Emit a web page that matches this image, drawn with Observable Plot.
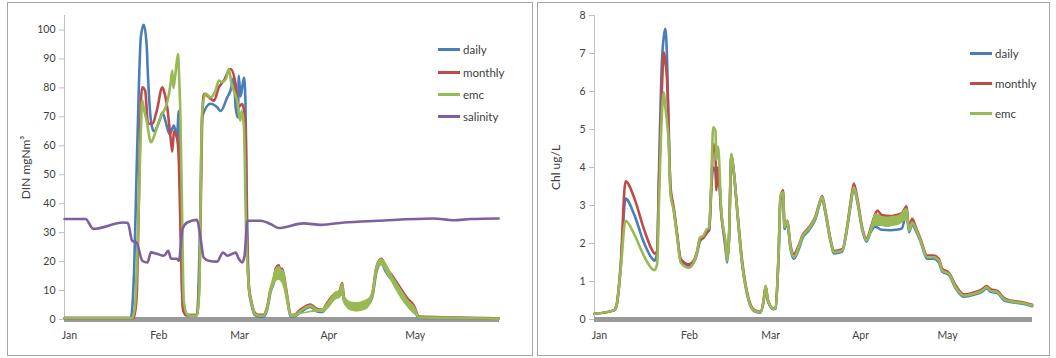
<!DOCTYPE html>
<html><head><meta charset="utf-8">
<script src="https://cdn.jsdelivr.net/npm/d3@7"></script>
<script src="https://cdn.jsdelivr.net/npm/@observablehq/plot@0.6"></script>
<style>
body{margin:0;background:#fff;font-family:Lato,"Liberation Sans",sans-serif;}
.panel{position:absolute;top:2px;height:354px;border:1px solid #a6a6a6;box-sizing:border-box;background:#fff;}
.legend{position:absolute;left:0;top:0;font-size:11.5px;color:#404040;}
.item{position:absolute;white-space:nowrap;display:flex;align-items:center;height:14px;}
.sw{width:22px;height:3px;margin-right:3px;}
svg{display:block;}
</style></head><body>
<div id="left" class="panel" style="left:7px;width:526px"></div>
<div id="right" class="panel" style="left:537px;width:513px"></div>
<script>
// ---------- data (day offsets from 1 Jan) ----------
const monthLabels = ["Jan","Feb","Mar","Apr","May"];
const dinTicks = [0,10,20,30,40,50,60,70,80,90,100];
const chlTicks = [0,1,2,3,4,5,6,7,8];

const dinDailyDays = [0,23,23.6,24.2,25,25.8,26.5,27.5,28.5,29,30,31,33,34,35,36.5,38,39,39.7,40.1,41,42,46,47,47.8,50.7,53,54.2,56.5,57.6,58.8,59.4,60.2,60.5,61.1,62.3,62.8,63.3,64,65,66,67.4,69,70.4,71.5,72.7,73.3,74.4,75,75.5,76.2,77.3,78.5,79.6,82,85.4,87.7,89.5,91.2,93.5,95.3,96.4,97,100,102.4,105.9,107,108.3,110,111.5,114.4,116.7,119,121.3,123,135,150.7];
const dinDaily = [0.5,0.5,5,18,50, 80,97.5,101.8,95,83.6, 68.7,65,68.7,71.5,68.7, 64,67,63,72,49, 5,1.5,1.5,30,70, 74.5,73.3,72,76.7,79, 83.6,73.3,69.8,84.2,77, 83.6,75.6,40,10.5,4.8, 1.6,1,1,3.6,9.4, 12.9,16,17,15,16, 13.5,7,1,1,2.6, 4.3,2.8,2.6,4.8,7.5, 8.3,11.5,6.5,4,3.8, 5.8,8.5,16.5,19.5,16.5, 12.7,9.2,6,3.6,0.5, 0.5,0.3];

const dinMonthlyDays = [0,24,25,25.8,26.5,27,28,29,30.5,32,34,34.5,35.7,36.8,37.4,38,39,39.6,40.3,41.2,42.5,46,47,47.8,48.4,51.9,53.6,55.3,57.6,59.4,60.2,61.7,62.8,63.3,64,65,66,67.4,69,70.4,71.5,72.7,73.3,74.4,75,75.5,76.2,77.3,78.5,79.6,82,85.4,87.7,89.5,91.2,93.5,95.3,96.4,97,100,102.4,105.9,107,108.3,110,111.5,114.4,116.7,119,121.3,123,135,150.7];
const dinMonthly = [0.5,0.5,7,40,75, 80.2,79,67.6,67.6,72, 80.2,79,73,62.9,58, 65,63,57,30,3, 1.5,1.5,20,70,77.9, 75.6,80.2,82.5,86.5,81.3, 73.3,74.4,67.6,30,12, 5.8,2.4,1.6,1.6,4.6, 10.4,14,17.5,18.7,16.3, 17.6,15,8.2,1.6,1.5, 3.5,5.2,3.6,3.4,5.8, 8.6,9.4,12.6,7.6,5, 4.8,6.8,9.8,18.2,21, 18.2,14.2,10.7,7.3,4.8, 1,0.7,0.4];

const dinEmcDays = [0,23.5,24.5,25.5,26.5,27,27.5,28.5,30,31,32,33.3,34.5,35.5,36.8,37.4,37.8,38.5,39.4,39.8,40.2,40.8,41.4,42.5,44,46,46.8,47.2,47.8,49,50.7,52.4,53.6,54.5,56,57,58,59.9,61,61.5,62.3,63,64,65,66,67.4,69,70.4,71.5,72.7,73.3,74.4,75,75.5,76.2,77.3,78.5,79.6,82,85.4,87.7,89.5,91.2,93.5,95.3,96.4,97,100,102.4,105.9,107,108.3,110,111.5,114.4,116.7,119,121.3,123,135,150.7];
const dinEmc = [0.5,0.5,5,30,65, 75.6,73,68.7,61.2,63, 66,69.8,72,74.5,81.3, 86,80,84.8,91.7,83.6, 72,37.6,6.5,1.9,1.3, 1.5,10,37.6,72,78, 76.7,79,82.5,82,83, 86.5,81.3,75.6,68.7,72, 66.3,31.8,11,5.3,2, 1.3,1.3,4.1,9.9,13.4, 16.8,18,15.7,17,14.5, 7.6,1.3,1.2,3,4.7, 3.2,3,5.3,8,8.8, 12.2,7,4.5,4.3,6.3, 9,17.4,20.3,17.4,13.4, 9.9,6.5,4.1,0.7,0.6, 0.3];

// tidal spread of the emc series (lower / upper envelope)
const dinBandDays = [69.5,70.5,71.5,72.5,73.5,74.5,75.5,76.5,77.5,78.5, 88,90,92,94,96,96.4,97,98,100,102,104,106,107,108,110,112,114,116,118,120,122];
const dinBandLo   = [1.3,3,7.5,11,13,13.5,12.5,9,4,1.3, 2.5,2.5,4,6.5,7.5,8,5.5,4,2.8,2.6,3,4.5,7,14.5,18.5,15.5,12,8.5,5.5,3,1.2];
const dinBandHi   = [2,5.5,11,15,17.5,18,17,14.5,8,1.8, 3.5,4,6.5,9.5,10,12.2,8.5,7,6,5.9,6.5,7.6,10.5,18,21,19,15,11.5,8,5.5,3];

const salDays = [0,7.3,10,20.5,22,23.5,25,27,28.8,30,32,34.5,36,37,39,39.7,41,42.6,46,47.2,48.3,50,53,55,56.6,59.4,60.5,61.7,62.5,63.5,68,71.5,74.3,83,89,97,108.7,128,135,141,150.7];
const salinity = [34.7,34.7,31.3,33.5,33.3, 27.2,26.6,20.3,19.7,23.2, 22.7,22,23.7,21,21, 20.3,31.3,33.5,34.4,28.3, 21.4,20.3,20,23.1,22, 23.1,21,19.7,22,34.1, 34.1,33,31.6,33.2,32.7, 33.5,34.1,34.9,34.3,34.7, 34.9];

const chlDays = [0,6.7,7.6,9,10.7, 13.6,17,19.9,20.7,21.6, 22.2,23.3,23.9,24.4,25, 25.6,26.2,27.3,28.5,29.7, 32.5,34.2,35.4,36.3,37.5, 38.9,39.5,40.3,40.9,41.7, 42,42.6,43.7,45.2,45.7, 46.3,47.2,48,49.2,50.9, 52.6,54.9,57.2,58.3,59, 59.8,61.8,62.4,63.5,64.1, 65,65.5,66.4,67.6,68.7, 70.4,71.6,73.9,76.2,77.9, 78.5,79.4,81.4,82.5,85.4, 87.1,88.3,89.4,90.6,92.3, 93.8,95.2,96.9,97.5,99, 102,104,106,107.6,108.4, 109.5,110.7,112.4,114.7,117, 118.7,119.9,122.2,124.5,127.3, 130.8,133.7,135.2,136.5,138.9, 141.1,143.4,148,150.9];
const chlDaily = [0.15,0.24,0.37,1.35,3.18, 2.78,2.03,1.6,1.55,1.75, 3.8,6.9,7.45,7.65,6.9, 5.0,3.4,2.9,2.2,1.55, 1.4,1.5,1.75,2.05,2.15, 2.3,2.35,3.5,4.0,3.9, 3.6,4.0,2.8,1.85,1.5, 2.0,4.3,3.9,2.85,1.45, 0.66,0.23,0.18,0.48,0.86, 0.48,0.27,0.29,1.75,3.15, 3.3,2.38,2.55,1.85,1.6, 1.85,2.12,2.35,2.65,3.1, 3.18,2.88,2.05,1.74,1.79, 2.4,3.0,3.45,3.1,2.36, 2.05,2.3,2.45,2.42,2.36, 2.35,2.36,2.4,2.85,2.3, 2.5,2.35,2.05,1.6,1.6, 1.5,1.26,1.17,0.82,0.6, 0.65,0.73,0.82,0.73,0.7, 0.51,0.46,0.41,0.35];
const chlMonthly = [0.15,0.24,0.37,1.4,3.64, 3.22,2.39,1.82,1.73,1.8, 3.6,6.2,7.03,6.8,6.3, 4.8,3.5,2.95,2.25,1.6, 1.45,1.55,1.8,2.1,2.15, 2.3,2.35,3.5,4.62,4.4, 3.4,4.0,2.8,1.95,1.6, 2.0,4.3,3.9,2.9,1.55, 0.72,0.26,0.2,0.5,0.87, 0.5,0.28,0.3,1.8,3.2, 3.4,2.5,2.6,1.95,1.72, 1.95,2.2,2.42,2.72,3.15, 3.25,2.95,2.1,1.8,1.85, 2.45,3.1,3.58,3.2,2.42, 2.12,2.4,2.8,2.87,2.75, 2.72,2.75,2.8,2.98,2.4, 2.65,2.45,2.12,1.68,1.68, 1.6,1.33,1.23,0.9,0.66, 0.71,0.8,0.88,0.8,0.75, 0.57,0.5,0.45,0.39];
const chlEmc = [0.15,0.24,0.37,1.29,2.6, 2.26,1.68,1.33,1.3,1.47, 3.0,5.5,5.98,5.6,5.2, 4.62,3.3,2.87,2.17,1.5, 1.36,1.5,1.8,2.15,2.2, 2.39,2.4,3.74,5.06,4.97, 4.2,4.55,2.87,2.0,1.55, 2.0,4.36,3.92,2.87,1.47, 0.68,0.24,0.19,0.5,0.89, 0.5,0.28,0.3,1.8,3.22, 3.35,2.43,2.6,1.9,1.64, 1.9,2.17,2.39,2.69,3.13, 3.22,2.91,2.08,1.77,1.82, 2.43,3.04,3.48,3.13,2.39, 2.08,2.34,2.7,2.75,2.62, 2.6,2.6,2.65,2.9,2.34, 2.55,2.4,2.08,1.64,1.64, 1.55,1.29,1.2,0.85,0.63, 0.68,0.76,0.85,0.76,0.72, 0.54,0.48,0.43,0.37];

const chlBandDays = [95.2,96.9,99,101,103,105,107.6,108.4];
const chlBandLo   = [2.3,2.45,2.45,2.42,2.45,2.48,2.6,2.34];
const chlBandHi   = [2.36,2.78,2.72,2.7,2.72,2.74,2.92,2.4];

const colors = {daily:"#4a7ebb", monthly:"#be4b48", emc:"#98b954", salinity:"#7d60a0"};

// ---------- helpers ----------
const base = Date.UTC(2011,0,1);
const toDate = d => new Date(base + d*864e5);
const pts = (days, vals) => days.map((d,i)=>({date: toDate(d), v: vals[i]}));
const band = (days, lo, hi) => days.map((d,i)=>({date: toDate(d), lo: lo[i], hi: hi[i]}));
const monthTicks = monthLabels.map((m,i)=>new Date(Date.UTC(2011,i,1)));
const xDomain = [toDate(0), toDate(151)];
const font = "Lato, 'Liberation Sans', sans-serif";

function chart({width, marginRight, yDomain, ticks, label, series, bands, extra = []}){
  const lw = 2.6;
  return Plot.plot({
    width, height: 352,
    marginLeft: 56, marginRight, marginTop: 12, marginBottom: 36,
    style: {fontFamily: font, fontSize: "10.5px", color: "#404040", background: "transparent"},
    x: {type: "utc", domain: xDomain},
    y: {domain: yDomain},
    marks: [
      Plot.ruleX([xDomain[0]], {y1: yDomain[0], y2: yDomain[1], stroke: "#bfbfbf"}),
      Plot.axisY({ticks, tickSize: 5, tickPadding: 4, stroke: "#bfbfbf", fill: "#404040", label: null}),
      Plot.axisY({ticks: [], label, labelAnchor: "center", labelOffset: 43, labelArrow: "none", fontSize: 12, fill: "#404040"}),
      Plot.axisX({ticks: monthTicks, tickFormat: d => monthLabels[d.getUTCMonth()], tickSize: 0, tickPadding: 12, dx: 5, fill: "#404040", label: null}),
      Plot.ruleY([0], {stroke: "#999999", strokeWidth: 5}),
      ...series.map(s => Plot.line(s.data, {x: "date", y: "v", stroke: s.color, strokeWidth: lw, strokeLinejoin: "round", curve: "monotone-x"})),
      ...bands.map(b => Plot.areaY(b.data, {x: "date", y1: "lo", y2: "hi", fill: b.color, curve: "monotone-x"})),
      ...extra.map(s => Plot.line(s.data, {x: "date", y: "v", stroke: s.color, strokeWidth: lw, strokeLinejoin: "round", curve: "monotone-x"}))
    ]
  });
}

const left = chart({
  width: 524, marginRight: 33, yDomain: [0,105], ticks: dinTicks, label: "DIN mgNm³",
  series: [
    {data: pts(dinDailyDays, dinDaily), color: colors.daily},
    {data: pts(dinMonthlyDays, dinMonthly), color: colors.monthly},
    {data: pts(dinEmcDays, dinEmc), color: colors.emc},
  ],
  bands: [{data: band(dinBandDays, dinBandLo, dinBandHi), color: colors.emc}],
  extra: [{data: pts(salDays, salinity), color: colors.salinity}]
});

const right = chart({
  width: 511, marginRight: 17, yDomain: [0,8], ticks: chlTicks, label: "Chl ug/L",
  series: [
    {data: pts(chlDays, chlDaily), color: colors.daily},
    {data: pts(chlDays, chlMonthly), color: colors.monthly},
    {data: pts(chlDays, chlEmc), color: colors.emc},
  ],
  bands: [{data: band(chlBandDays, chlBandLo, chlBandHi), color: colors.emc}]
});

document.getElementById("left").appendChild(left);
document.getElementById("right").appendChild(right);

function legend(el, x, ys, names){
  const lg = document.createElement("div"); lg.className = "legend";
  names.forEach((n,i)=>{
    const it = document.createElement("div"); it.className = "item";
    it.style.left = x + "px"; it.style.top = (ys[i]-7) + "px";
    it.innerHTML = `<span class="sw" style="background:${colors[n]}"></span><span>${n}</span>`;
    lg.appendChild(it);
  });
  document.getElementById(el).appendChild(lg);
}
legend("left", 430, [46,69,91,113], ["daily","monthly","emc","salinity"]);
legend("right", 432, [50,80,110], ["daily","monthly","emc"]);
</script>
</body></html>
